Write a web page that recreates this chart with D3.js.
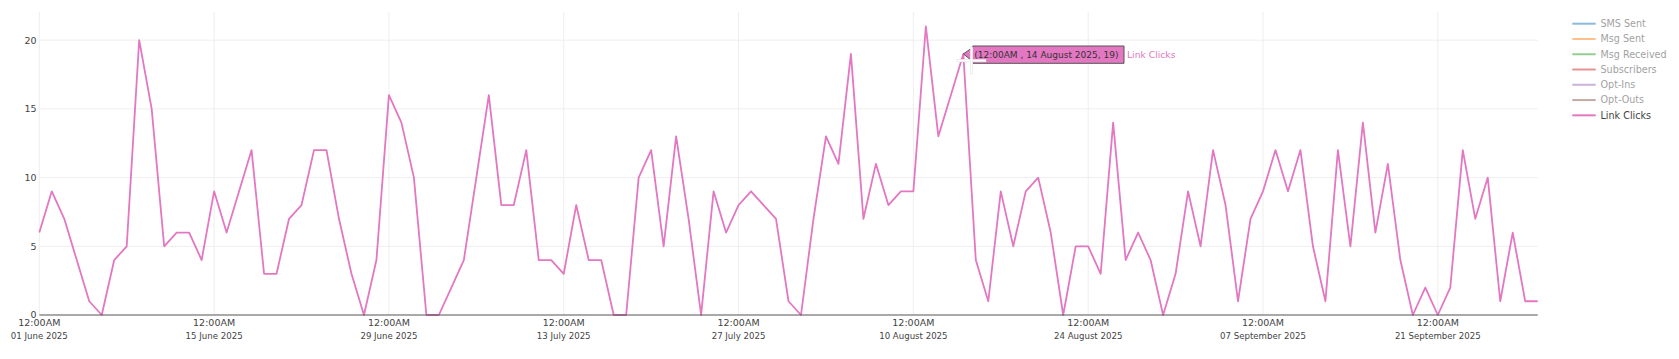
<!DOCTYPE html>
<html>
<head>
<meta charset="utf-8">
<script src="https://cdn.jsdelivr.net/npm/d3@7"></script>
<style>
  html, body { margin: 0; padding: 0; background: #fff; }
  svg { display: block; font-family: "DejaVu Sans", Verdana, sans-serif; }
</style>
</head>
<body>
<svg id="chart" width="1679" height="359"></svg>
<script>
// ---- data ----
const startDate = "2025-06-01";
const endDate = "2025-09-29";
const linkClicks = [
  6, 9, 7, 4, 1, 0, 4, 5, 20, 15,
  5, 6, 6, 4, 9, 6, 9, 12, 3, 3,
  7, 8, 12, 12, 7, 3, 0, 4, 16, 14,
  10, 0, 0, 2, 4, 10, 16, 8, 8, 12,
  4, 4, 3, 8, 4, 4, 0, 0, 10, 12,
  5, 13, 7, 0, 9, 6, 8, 9, 8, 7,
  1, 0, 7, 13, 11, 19, 7, 11, 8, 9,
  9, 21, 13, 16, 19, 4, 1, 9, 5, 9,
  10, 6, 0, 5, 5, 3, 14, 4, 6, 4,
  0, 3, 9, 5, 12, 8, 1, 7, 9, 12,
  9, 12, 5, 1, 12, 5, 14, 6, 11, 4,
  0, 2, 0, 2, 12, 7, 10, 1, 6, 1, 1
];
const xTickDates = ["2025-06-01", "2025-06-15", "2025-06-29", "2025-07-13", "2025-07-27",
                    "2025-08-10", "2025-08-24", "2025-09-07", "2025-09-21"];
const xTickTime = "12:00AM";
const xTickDateLabels = ["01 June 2025", "15 June 2025", "29 June 2025", "13 July 2025", "27 July 2025",
                         "10 August 2025", "24 August 2025", "07 September 2025", "21 September 2025"];
const yTicks = [0, 5, 10, 15, 20];
const legendNames = ["SMS Sent", "Msg Sent", "Msg Received", "Subscribers", "Opt-Ins", "Opt-Outs", "Link Clicks"];
const legendColors = ["#1f77b4", "#ff7f0e", "#2ca02c", "#d62728", "#9467bd", "#8c564b", "#e377c2"];
const legendVisible = [false, false, false, false, false, false, true];
const hoverIndex = 74;
const hoverText = "(12:00AM ,  14 August 2025, 19)";
const hoverName = "Link Clicks";

// ---- layout ----
const parse = d3.utcParse("%Y-%m-%d");
const dates = d3.utcDay.range(parse(startDate), d3.utcDay.offset(parse(endDate), 1));
const data = dates.map((d, i) => ({ date: d, value: linkClicks[i] }));

const plot = { left: 39.3, right: 1537.7, top: 12, bottom: 315 };
const svg = d3.select("#chart");

const x = d3.scaleUtc().domain([parse(startDate), parse(endDate)]).range([plot.left, plot.right]);
const y = d3.scaleLinear().domain([0, 22.05]).range([plot.bottom, plot.top]);

// horizontal grid
svg.append("g").selectAll("line").data(yTicks.filter(t => t > 0)).join("line")
  .attr("x1", plot.left).attr("x2", plot.right)
  .attr("y1", d => y(d)).attr("y2", d => y(d))
  .attr("stroke", "#eee").attr("stroke-width", 1);

// vertical grid
const tickDates = xTickDates.map(parse);
svg.append("g").selectAll("line").data(tickDates).join("line")
  .attr("x1", d => x(d)).attr("x2", d => x(d))
  .attr("y1", plot.top).attr("y2", plot.bottom)
  .attr("stroke", "#eee").attr("stroke-width", 1);

// y tick labels
svg.append("g").selectAll("text").data(yTicks).join("text")
  .attr("x", 36.5).attr("y", d => y(d) + 3.4)
  .attr("text-anchor", "end")
  .attr("font-size", "9.5px").attr("fill", "#444")
  .text(d => d);

// x tick labels (two lines)
const xt = svg.append("g").selectAll("g").data(tickDates).join("g");
xt.append("text")
  .attr("x", d => x(d)).attr("y", 326.2)
  .attr("text-anchor", "middle").attr("font-size", "9.5px").attr("fill", "#444")
  .text(xTickTime);
xt.append("text")
  .attr("x", d => x(d)).attr("y", 338.6)
  .attr("text-anchor", "middle").attr("font-size", "8.6px").attr("fill", "#444")
  .text((d, i) => xTickDateLabels[i]);

// line
const line = d3.line().x(d => x(d.date)).y(d => y(d.value));
svg.append("path").datum(data)
  .attr("d", line)
  .attr("fill", "none").attr("stroke", "#e377c2").attr("stroke-width", 1.8)
  .attr("stroke-linejoin", "round");

// zero line / axis
svg.append("line")
  .attr("x1", plot.left).attr("x2", plot.right)
  .attr("y1", y(0)).attr("y2", y(0))
  .attr("stroke", "#555").attr("stroke-width", 1.2);

// legend
const lg = svg.append("g");
legendNames.forEach((name, i) => {
  const cy = 23.7 + i * 15.27;
  const g = lg.append("g").attr("opacity", legendVisible[i] ? 1 : 0.5);
  g.append("line").attr("x1", 1572.3).attr("x2", 1595.7).attr("y1", cy).attr("y2", cy)
    .attr("stroke", legendColors[i]).attr("stroke-width", 2);
  g.append("text").attr("x", 1600.5).attr("y", cy + 3.4)
    .attr("font-size", "9.6px").attr("fill", "#444").text(name);
});

// hover label
const hp = data[hoverIndex];
const px = x(hp.date), py = y(hp.value);
const bx0 = 972.7, bx1 = 1124, by0 = 46, by1 = 63.3;
const hov = svg.append("g");
hov.append("path")
  .attr("d", `M${px},${py} L${bx0},${by0 + 1.5} L${bx0},${by0} L${bx1},${by0} L${bx1},${by1} L${bx0},${by1} L${bx0},${by1 - 2} Z`)
  .attr("fill", "#e377c2").attr("stroke", "#555").attr("stroke-width", 1);
hov.append("text").attr("x", bx0 + 1.5).attr("y", (by0 + by1) / 2 + 3.3)
  .attr("font-size", "9px").attr("fill", "#333").text(hoverText);
hov.append("text").attr("x", bx1 + 3).attr("y", (by0 + by1) / 2 + 3.3)
  .attr("font-size", "9.2px").attr("fill", "#e377c2").text(hoverName);

// cursor crosshair artifact
hov.append("rect").attr("x", 957).attr("y", 59.3).attr("width", 29).attr("height", 2.6)
  .attr("fill", "#fff").attr("stroke", "#ddd").attr("stroke-width", 0.5);
hov.append("rect").attr("x", 970.2).attr("y", 47).attr("width", 2.6).attr("height", 27)
  .attr("fill", "#fff").attr("stroke", "#ddd").attr("stroke-width", 0.5);
</script>
</body>
</html>
